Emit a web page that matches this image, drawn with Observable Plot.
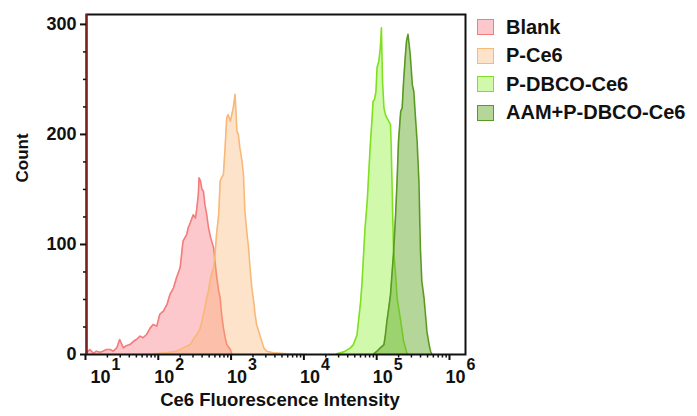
<!DOCTYPE html>
<html><head><meta charset="utf-8">
<script src="https://cdn.jsdelivr.net/npm/d3@7"></script>
<script src="https://cdn.jsdelivr.net/npm/@observablehq/plot@0.6"></script>
<style>
body{margin:0;background:#fff;font-family:"Liberation Sans",Arial,sans-serif;}
#wrap{position:relative;width:697px;height:416px;}
#legend{position:absolute;left:477px;top:13px;font-weight:bold;font-size:20px;color:#111;}
.row{display:flex;align-items:center;height:28.5px;}
.sw{width:17px;height:16px;margin-right:12px;box-sizing:border-box;border:1.5px solid;}
</style></head><body><div id="wrap"><div id="legend"></div></div>
<script>
// ---- data (log10 of Ce6 fluorescence intensity, event count) ----
const seriesNames = ["Blank", "P-Ce6", "P-DBCO-Ce6", "AAM+P-DBCO-Ce6"];
const strokeColors = ["#f47c7c", "#f8b878", "#80e020", "#5a9a22"];
const fillColors = ["#f77d83", "#fbb06a", "#8ef03a", "#6aae32"];

const blankLog = [1.01,1.06,1.11,1.15,1.20,1.24,1.29,1.34,1.38,1.43,1.47,1.52,1.56,1.61,1.66,1.70,1.75,1.79,1.84,1.89,1.93,1.98,2.02,2.07,2.12,2.16,2.21,2.25,2.30,2.34,2.39,2.41,2.44,2.48,2.51,2.53,2.55,2.56,2.58,2.60,2.62,2.64,2.665,2.69,2.72,2.76,2.78,2.80,2.83,2.85,2.87,2.895,2.92,2.94,2.99,3.01];
const blankCount = [1.5,4.5,1,3,2,3,4.5,4.5,3,6,13.6,6,8,9,12,13.6,16.7,15.2,18.2,24.2,27.3,25.8,36.4,39.4,45.5,54.5,60.6,69.7,78.8,103,109,115,119.7,127,124,133,145.5,160.6,157.6,150,148.5,136.4,127.3,115.2,106,97,84,72,57.6,51.5,36.4,24,15,9,4.5,0];

const pce6Log = [1.93,2.12,2.25,2.34,2.39,2.44,2.48,2.53,2.57,2.60,2.62,2.64,2.665,2.69,2.71,2.73,2.76,2.78,2.80,2.83,2.85,2.87,2.895,2.92,2.94,2.96,2.99,3.01,3.03,3.055,3.08,3.10,3.12,3.15,3.17,3.19,3.22,3.24,3.26,3.285,3.31,3.33,3.35,3.40,3.45,3.49,3.58,3.77,4.04];
const pce6Count = [0.6,1.5,3,6,7.6,9,13.6,18.2,22.7,30.3,36.4,42.4,51.5,57.6,66.7,72.7,78.8,90.9,109,127.3,157.6,160.6,163.6,190.9,215,218,212,218,224,236.4,203,200,188,175.8,163.6,130,109,97,78.8,60.6,48.5,36.4,27.3,16.7,6,3,1.5,0.6,0];

const dbcoLog = [4.45,4.55,4.64,4.68,4.73,4.75,4.78,4.80,4.82,4.84,4.87,4.89,4.91,4.94,4.95,4.97,4.99,5.005,5.03,5.05,5.065,5.08,5.10,5.12,5.14,5.165,5.19,5.20,5.21,5.22,5.23,5.26,5.28,5.33,5.37,5.42];
const dbcoCount = [0.6,2.4,6,9,18,30,48.5,66.7,91,115,139,163.6,188,218,230,231.8,239,260.6,266.7,278.8,297,248.5,224,218,215,212,209,187.9,157.6,127,97,72.7,51.5,30.3,12.1,0];

const aamLog = [4.96,5.005,5.05,5.10,5.12,5.14,5.165,5.19,5.21,5.23,5.26,5.28,5.30,5.33,5.35,5.37,5.395,5.41,5.43,5.445,5.46,5.49,5.51,5.53,5.555,5.58,5.60,5.62,5.65,5.67,5.69,5.72,5.74,5.76];
const aamCount = [0.6,3,6,9,18,30,42,54.5,72.7,91,127,157.6,194,221,224,248.5,272.7,285,291,282,273,245,239,218,194,157.6,97,66.7,51.5,36.4,21,9,3,0];

const xDecades = [1, 2, 3, 4, 5, 6];
const yMajor = [0, 100, 200, 300];
const yMinor = [25, 50, 75, 125, 150, 175, 225, 250, 275];
const xTitle = "Ce6 Fluorescence Intensity";
const yTitle = "Count";

// ---- build ----
const logs = [blankLog, pce6Log, dbcoLog, aamLog];
const counts = [blankCount, pce6Count, dbcoCount, aamCount];
const series = seriesNames.map((name, i) => logs[i].map((l, j) => ({series: name, x: 10 ** l, y: counts[i][j]})));
const xMinor = [];
for (const d of xDecades) for (let k = 2; k <= 9; k++) xMinor.push(k * 10 ** d);
const xDomain = [10 ** 1.014, 10 ** 6.22];
const xMinorIn = xMinor.filter(v => v >= xDomain[0] && v <= xDomain[1]);
const opac = [0.42, 0.35, 0.42, 0.5];

const marks = [];
series.forEach((rows, i) => {
  marks.push(Plot.areaY(rows, {x: "x", y: "y", fill: fillColors[i], fillOpacity: opac[i]}));
  marks.push(Plot.lineY(rows, {x: "x", y: "y", stroke: strokeColors[i], strokeWidth: 1.6}));
});

const chart = Plot.plot({
  width: 470, height: 416,
  marginLeft: 86, marginRight: 5, marginTop: 14, marginBottom: 62,
  style: {fontFamily: "'Liberation Sans', Arial, sans-serif", color: "#111", background: "white", overflow: "visible"},
  x: {type: "log", domain: xDomain, axis: null},
  y: {domain: [0, 309], axis: null},
  marks: [
    ...marks,
    Plot.frame({stroke: "#111", strokeWidth: 2}),
    Plot.ruleX([xDomain[0]], {stroke: "#7a2020", strokeWidth: 2}),
    Plot.axisY({ticks: yMajor, tickSize: 6, tickPadding: 4, strokeWidth: 2, fontSize: 18, fontWeight: "bold", label: null}),
    Plot.axisY({ticks: yMinor, tickSize: 3, strokeWidth: 1.5, tickFormat: () => "", label: null}),
    Plot.axisX({ticks: xDecades.map(d => 10 ** d), tickSize: 6, strokeWidth: 2, tickFormat: () => "", label: null}),
    Plot.axisX({ticks: xMinorIn, tickSize: 3.5, strokeWidth: 1.5, tickFormat: () => "", label: null}),
    Plot.text(xDecades.slice(0, 1), {x: d => 10 ** d, frameAnchor: "bottom", dy: 28, dx: 5, textAnchor: "start", text: () => "10", fontSize: 18, fontWeight: "bold"}),
    Plot.text(xDecades.slice(0, 1), {x: d => 10 ** d, frameAnchor: "bottom", dy: 15, dx: 26, textAnchor: "start", text: d => String(d), fontSize: 16, fontWeight: "bold"}),
    Plot.text(xDecades.slice(1), {x: d => 10 ** d, frameAnchor: "bottom", dy: 28, dx: -4, textAnchor: "start", text: () => "10", fontSize: 18, fontWeight: "bold"}),
    Plot.text(xDecades.slice(1), {x: d => 10 ** d, frameAnchor: "bottom", dy: 15, dx: 17, textAnchor: "start", text: d => String(d), fontSize: 16, fontWeight: "bold"}),
    Plot.text([xTitle], {frameAnchor: "bottom", dy: 51, dx: 4, text: d => d, fontSize: 18.5, fontWeight: "bold"}),
    Plot.text([yTitle], {frameAnchor: "left", dx: -64, dy: -2, rotate: -90, text: d => d, fontSize: 17, fontWeight: "bold"})
  ]
});
document.getElementById("wrap").prepend(chart);

const legend = document.getElementById("legend");
seriesNames.forEach((name, i) => {
  const row = document.createElement("div");
  row.className = "row";
  const sw = document.createElement("span");
  sw.className = "sw";
  sw.style.borderColor = strokeColors[i];
  sw.style.background = d3.color(fillColors[i]).copy({opacity: opac[i]}).formatRgb();
  const label = document.createElement("span");
  label.textContent = name;
  row.append(sw, label);
  legend.append(row);
});
</script></body></html>
